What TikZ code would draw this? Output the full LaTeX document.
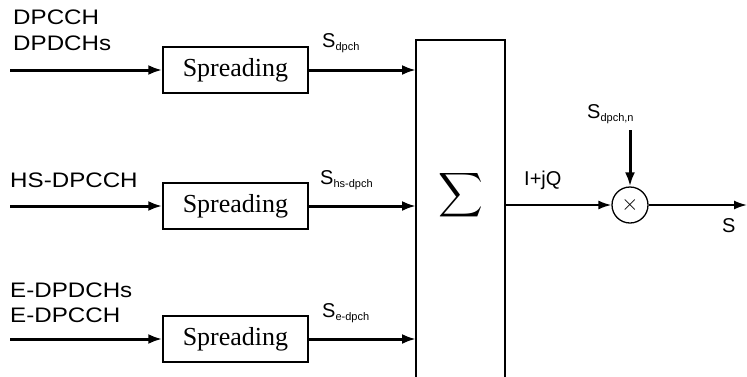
\documentclass[tikz,border=0pt]{standalone}
\usepackage{fontspec}
\usepackage{graphicx}
\setmainfont{Liberation Sans}
\newfontfamily\serifft{Liberation Serif}
\usetikzlibrary{arrows.meta}
\newcommand{\mysub}[1]{\raisebox{-3pt}{\fontsize{11}{11}\selectfont #1}}
\begin{document}
\begin{tikzpicture}[x=1pt,y=-1pt,
  lbl/.style={font=\fontsize{21}{21}\selectfont, inner sep=0pt, anchor=west, xscale=1.15, transform shape},
  slbl/.style={font=\fontsize{20}{20}\selectfont, inner sep=0pt, anchor=west},
  spreadbox/.style={draw, line width=1.5pt, minimum width=145pt, minimum height=46pt, inner sep=0pt, font=\serifft\fontsize{26}{26}\selectfont},
  thickarrow/.style={line width=3pt, -{Latex[length=14pt,width=10pt]}},
  thinarrow/.style={line width=1.8pt, -{Latex[length=13pt,width=9pt]}}
]
\useasboundingbox (0,0) rectangle (747,376);
\fill[white] (0,0) rectangle (747,376);
% summation box
\draw[line width=1.8pt] (416,380) -- (416,40) -- (505,40) -- (505,380);
\coordinate (sumin1) at (416,70);
\coordinate (sumin2) at (416,206);
\coordinate (sumin3) at (416,339);
\coordinate (sumout) at (505,205);
\node (sigma) at (460.5,195) {\scalebox{3.1}{$\displaystyle\sum$}};
% spreading boxes
\node[spreadbox] (sp1) at (235.5,70) {Spreading};
\node[spreadbox] (sp2) at (235.5,206) {Spreading};
\node[spreadbox] (sp3) at (235.5,339) {Spreading};
% inputs
\coordinate (in1) at (10,70);
\coordinate (in2) at (10,206);
\coordinate (in3) at (10,339);
\draw[thickarrow] (in1) -- (sp1.west);
\draw[thickarrow] (in2) -- (sp2.west);
\draw[thickarrow] (in3) -- (sp3.west);
\draw[thickarrow] (sp1.east) -- (sumin1);
\draw[thickarrow] (sp2.east) -- (sumin2);
\draw[thickarrow] (sp3.east) -- (sumin3);
% input labels
\node[lbl] (l1) at (13,17) {DPCCH};
\node[lbl] (l2) at (13,43) {DPDCHs};
\node[lbl] (l3) at (10,180) {HS-DPCCH};
\node[lbl] (l4) at (10,290) {E-DPDCHs};
\node[lbl] (l5) at (10,315) {E-DPCCH};
% signal labels
\node[slbl] (s1) at (322,43) {S\mysub{dpch}};
\node[slbl] (s2) at (320,180) {S\mysub{hs-dpch}};
\node[slbl] (s3) at (322,313) {S\mysub{e-dpch}};
% multiplier
\node[draw, circle, line width=1.3pt, minimum size=36pt, inner sep=0pt] (mult) at (630,205) {\scalebox{2.2}{$\times$}};
\draw[thinarrow] (sumout) -- (mult.west);
\coordinate (out) at (747,205);
\draw[thinarrow] (mult.east) -- (out);
\coordinate (nin) at (630,130);
\draw[thickarrow] (nin) -- (mult.north);
\node[slbl] (iq) at (524,180) {I+jQ};
\node[slbl] (sn) at (587,114) {S\mysub{dpch,n}};
\node[slbl] (so) at (722,226) {S};
\end{tikzpicture}
\end{document}
